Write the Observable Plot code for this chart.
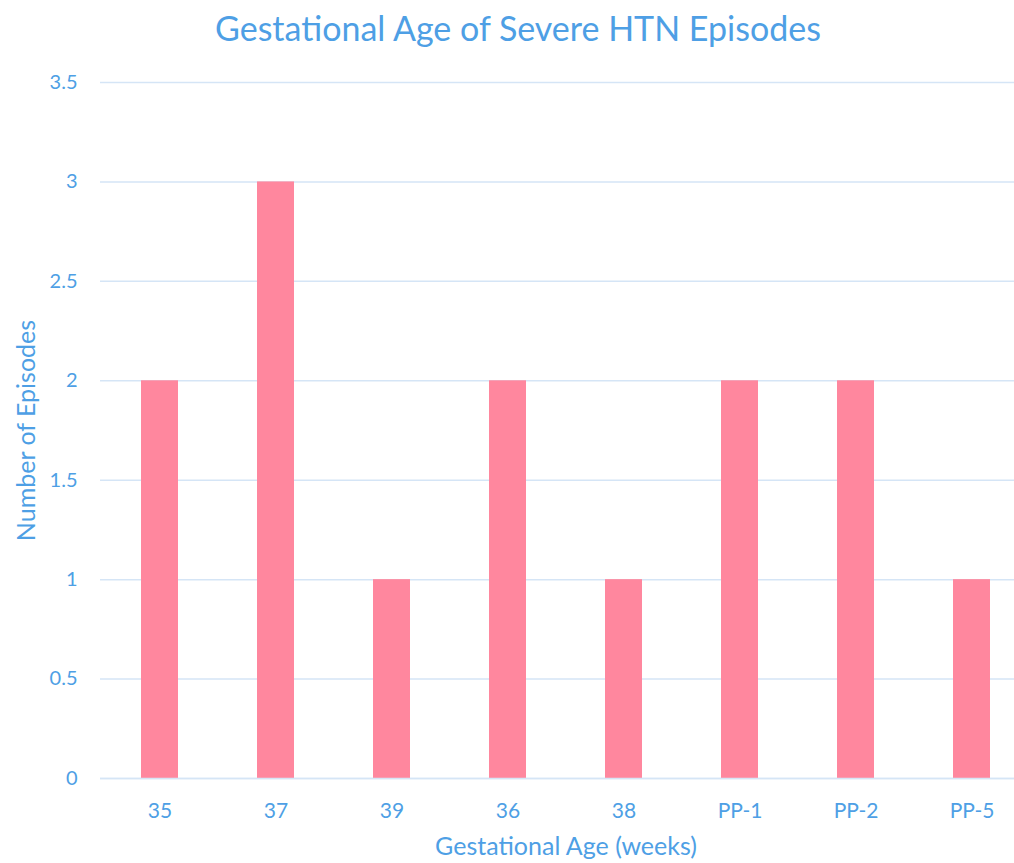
<!DOCTYPE html>
<html>
<head>
<meta charset="utf-8">
<script src="https://cdn.jsdelivr.net/npm/d3@7"></script>
<script src="https://cdn.jsdelivr.net/npm/@observablehq/plot@0.6"></script>
<style>
  html, body { margin: 0; padding: 0; background: #ffffff; overflow: hidden; }
  #title { height: 58px; line-height: 56px; text-align: center; font-family: Lato, sans-serif; font-size: 34px; color: #4e9fe5; padding-left: 22px; }
  #chart svg { overflow: visible; display: block; }
</style>
</head>
<body>
<div id="title">Gestational Age of Severe HTN Episodes</div>
<div id="chart"></div>
<script>
const categories = ["35", "37", "39", "36", "38", "PP-1", "PP-2", "PP-5"];
const episodes = [2, 3, 1, 2, 1, 2, 2, 1];
const yTicks = [0, 0.5, 1, 1.5, 2, 2.5, 3, 3.5];

const data = categories.map((c, i) => ({ age: c, count: episodes[i] }));
const blue = "#4e9fe5";

const chart = Plot.plot({
  width: 1014,
  height: 805,
  marginLeft: 100,
  marginRight: -17,
  marginTop: 24,
  marginBottom: 85,
  style: { fontFamily: "Lato, sans-serif", fontSize: "20px", color: blue, background: "#ffffff", overflow: "visible" },
  x: { domain: categories, paddingInner: 0.678, paddingOuter: 0.339, label: null },
  y: { domain: [0, 3.5], ticks: yTicks, label: null },
  marks: [
    Plot.gridY(yTicks, { stroke: "#d5e5f6", strokeOpacity: 1, strokeWidth: 1.5 }),
    Plot.barY(data, { x: "age", y: "count", fill: "#ff879e" }),
    Plot.ruleY([0], { stroke: "#d5e5f6", strokeWidth: 1.5 }),
    Plot.axisY(yTicks, { tickSize: 0, tickPadding: 23, fill: blue, fontSize: 20, label: null, tickFormat: d => String(d) }),
    Plot.axisX({ tickSize: 0, tickPadding: 25, fill: blue, fontSize: 21, label: null }),
    Plot.text(["Gestational Age (weeks)"], { frameAnchor: "bottom", dy: 76, fill: blue, fontSize: 25 }),
    Plot.text(["Number of Episodes"], { frameAnchor: "left", textAnchor: "middle", dx: -74, rotate: -90, fill: blue, fontSize: 25 })
  ]
});
document.getElementById("chart").appendChild(chart);
</script>
</body>
</html>
